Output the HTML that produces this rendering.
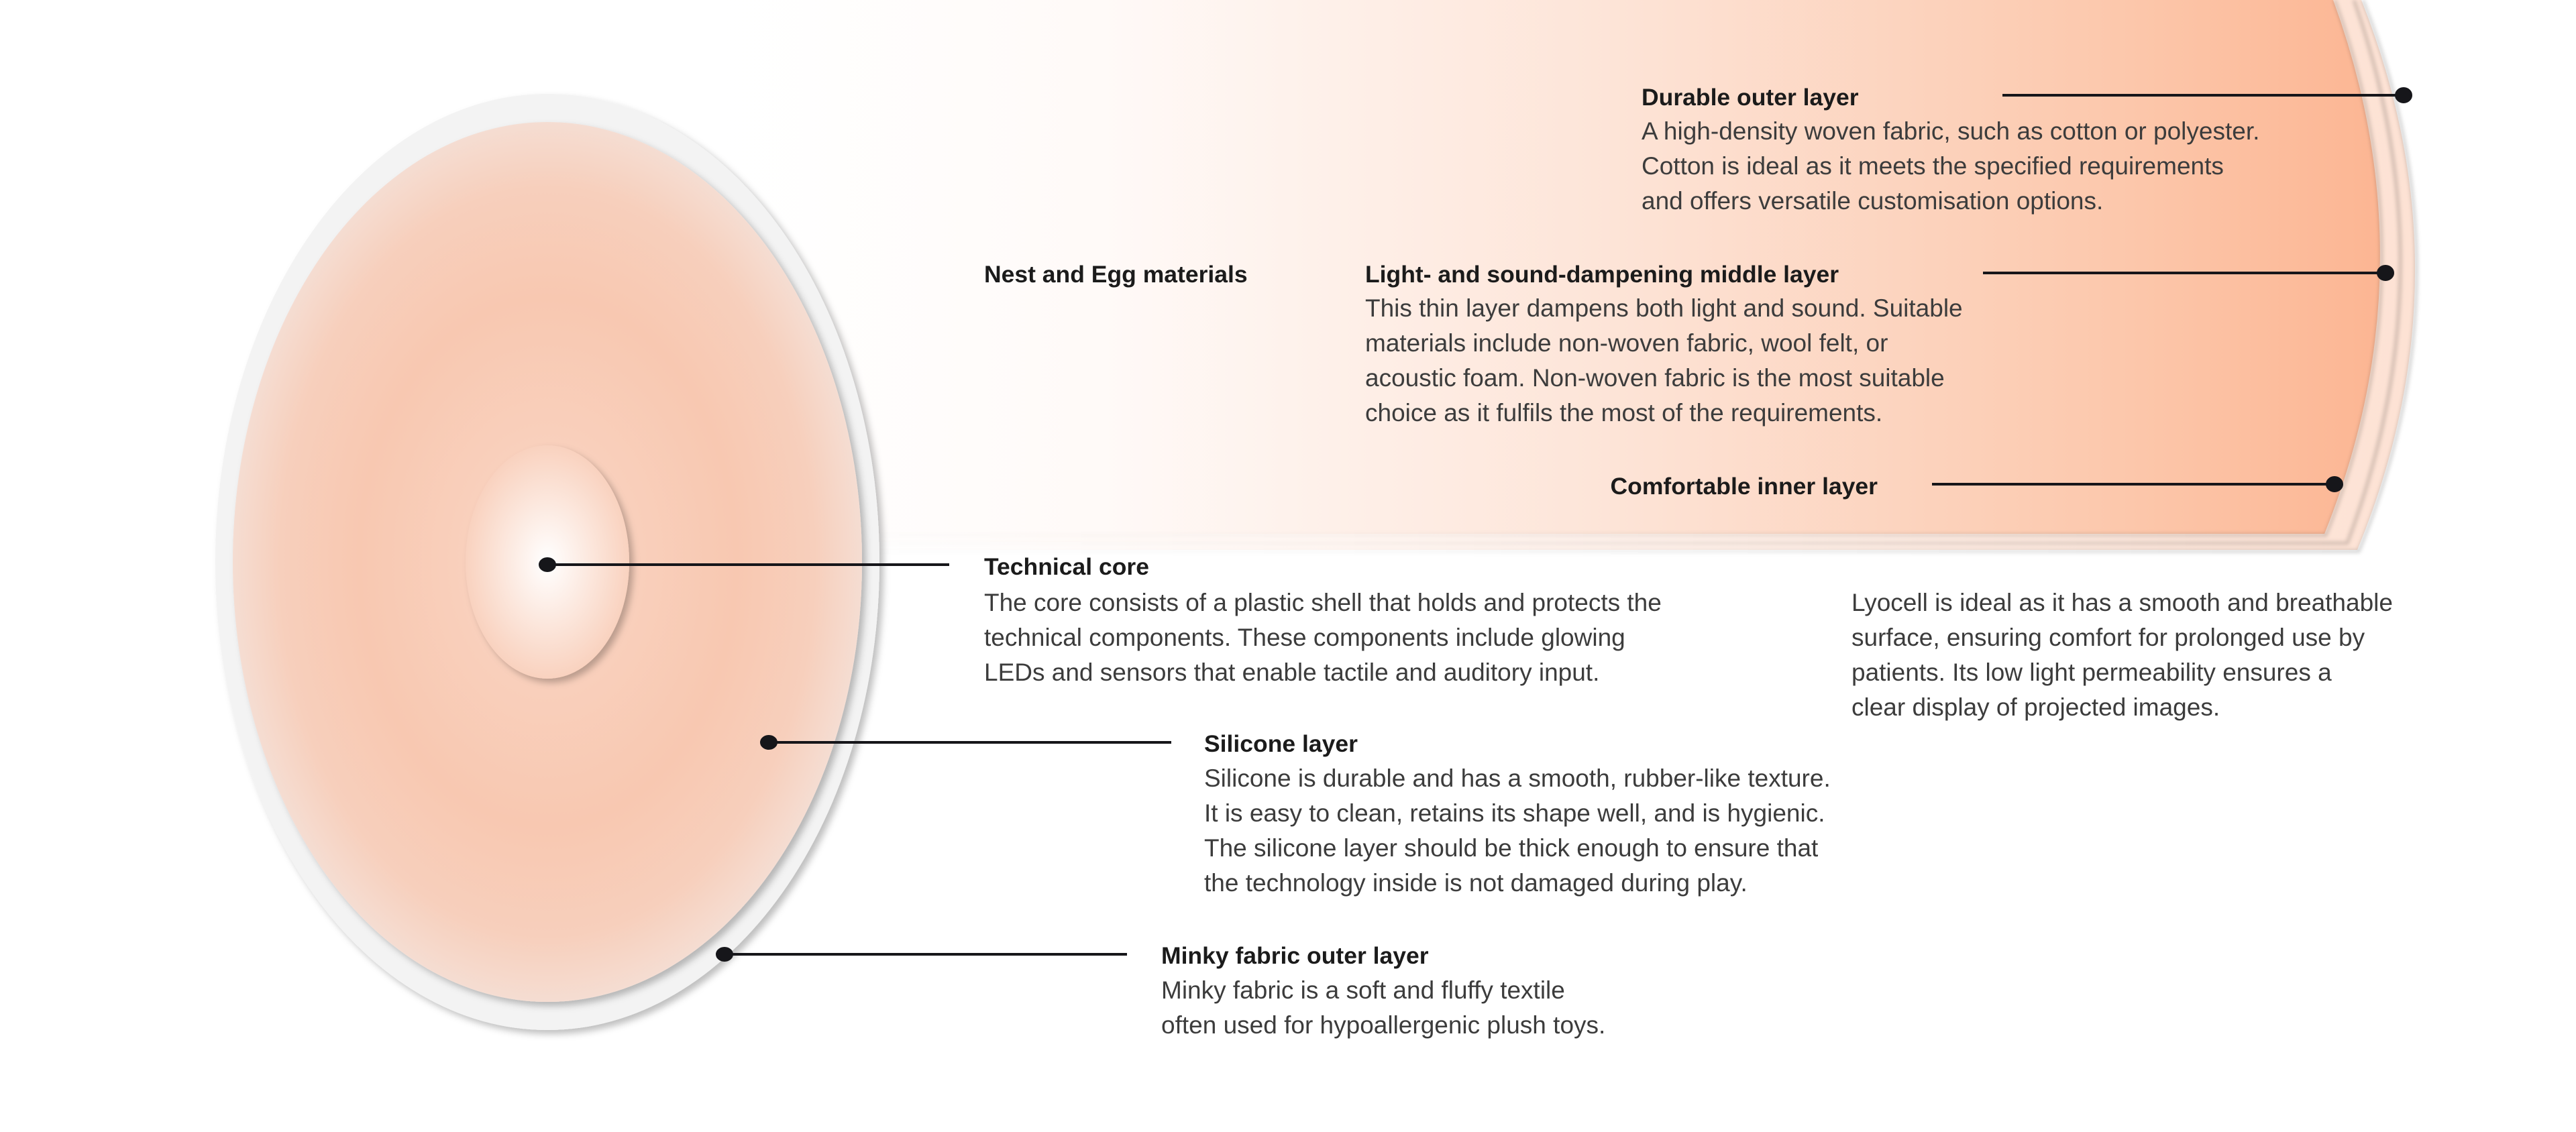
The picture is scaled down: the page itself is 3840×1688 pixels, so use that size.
<!DOCTYPE html>
<html><head><meta charset="utf-8">
<style>
html,body{margin:0;padding:0;background:#fff;}
#root{position:relative;width:3840px;height:1688px;overflow:hidden;background:#fff;font-family:"Liberation Sans",sans-serif;}
svg{position:absolute;left:0;top:0;}
.t{position:absolute;white-space:nowrap;line-height:52px;font-size:37px;color:#3c3c3c;}
.h{font-weight:bold;color:#1b1b1b;font-size:35.5px;}
</style></head>
<body>
<div id="root">
<svg width="3840" height="1688" viewBox="0 0 3840 1688">
<defs>
 <linearGradient id="band" x1="1000" y1="0" x2="3560" y2="0" gradientUnits="userSpaceOnUse">
  <stop offset="0" stop-color="#fff" stop-opacity="0"/>
  <stop offset="0.25" stop-color="#fffaf8"/>
  <stop offset="0.55" stop-color="#fde4d7"/>
  <stop offset="0.85" stop-color="#fcc7ab"/>
  <stop offset="1" stop-color="#fcb592"/>
 </linearGradient>
 <linearGradient id="band2" x1="1000" y1="0" x2="3600" y2="0" gradientUnits="userSpaceOnUse">
  <stop offset="0" stop-color="#fff" stop-opacity="0"/>
  <stop offset="0.35" stop-color="#fff7f3"/>
  <stop offset="1" stop-color="#fde2d4"/>
 </linearGradient>
 <linearGradient id="edge" x1="1000" y1="0" x2="3600" y2="0" gradientUnits="userSpaceOnUse">
  <stop offset="0" stop-color="#000" stop-opacity="0"/>
  <stop offset="0.4" stop-color="#000" stop-opacity="0.03"/>
  <stop offset="1" stop-color="#000" stop-opacity="0.18"/>
 </linearGradient>
 <radialGradient id="disc" cx="816" cy="838" r="469" gradientUnits="userSpaceOnUse" gradientTransform="translate(816 838) scale(1 1.4) translate(-816 -838)">
  <stop offset="0" stop-color="#fad6c5"/>
  <stop offset="0.6" stop-color="#f8c8b1"/>
  <stop offset="0.85" stop-color="#f7cfbc"/>
  <stop offset="1" stop-color="#f5ddd2"/>
 </radialGradient>
 <radialGradient id="core" cx="816" cy="838" r="122" gradientUnits="userSpaceOnUse" gradientTransform="translate(816 838) scale(1 1.42) translate(-816 -838)">
  <stop offset="0" stop-color="#ffffff"/>
  <stop offset="1" stop-color="#f9d2bf"/>
 </radialGradient>
 <filter id="sh" x="-10%" y="-10%" width="130%" height="130%"><feDropShadow dx="6" dy="6" stdDeviation="5" flood-color="#000" flood-opacity="0.25"/></filter>
 <filter id="blur"><feGaussianBlur stdDeviation="3"/></filter>
</defs>
<g>
 <path d="M1000 0 L3520 0 Q3683 410 3514 820 L1000 820 Z" fill="url(#band2)"/>
 <path d="M3522 0 Q3685 410 3516 822 L1000 822" fill="none" stroke="url(#edge)" stroke-width="5" filter="url(#blur)"/>
 <path d="M1000 0 L3507 0 Q3650 406 3497 808 L1000 808 Z" fill="url(#band2)"/>
 <path d="M3509 0 Q3652 406 3499 810 L1000 810" fill="none" stroke="url(#edge)" stroke-width="5" filter="url(#blur)"/>
 <path d="M1000 0 L3478 0 Q3624 400 3465 796 L1000 796 Z" fill="url(#band)"/>
 <path d="M3480 0 Q3626 400 3467 798 L1000 798" fill="none" stroke="url(#edge)" stroke-width="5" filter="url(#blur)"/>
</g>
<g>
 <ellipse cx="816" cy="838" rx="495" ry="698" fill="#f3f3f3" filter="url(#sh)"/>
 <ellipse cx="816" cy="838" rx="469" ry="656" fill="url(#disc)" filter="url(#sh)"/>
 <ellipse cx="816" cy="838" rx="122" ry="174" fill="url(#core)" filter="url(#sh)"/>
</g>
<g stroke="#16161a" stroke-width="4" fill="#16161a">
 <line x1="2985" y1="142" x2="3583" y2="142"/><ellipse cx="3583" cy="142" rx="11" ry="10"/>
 <line x1="2956" y1="407" x2="3556" y2="407"/><ellipse cx="3556" cy="407" rx="11" ry="10"/>
 <line x1="2880" y1="722" x2="3480" y2="722"/><ellipse cx="3480" cy="722" rx="11" ry="10"/>
 <line x1="816" y1="842" x2="1415" y2="842"/><ellipse cx="816" cy="842" rx="11" ry="9"/>
 <line x1="1146" y1="1107" x2="1746" y2="1107"/><ellipse cx="1146" cy="1107" rx="11" ry="9"/>
 <line x1="1080" y1="1423" x2="1680" y2="1423"/><ellipse cx="1080" cy="1423" rx="11" ry="9"/>
</g>
</svg>

<div class="t h" style="left:2447px;top:119px">Durable outer layer</div>
<div class="t" style="left:2447px;top:170px">A high-density woven fabric, such as cotton or polyester.<br>Cotton is ideal as it meets the specified requirements<br>and offers versatile customisation options.</div>

<div class="t h" style="left:1467px;top:383px">Nest and Egg materials</div>

<div class="t h" style="left:2035px;top:383px">Light- and sound-dampening middle layer</div>
<div class="t" style="left:2035px;top:434px">This thin layer dampens both light and sound. Suitable<br>materials include non-woven fabric, wool felt, or<br>acoustic foam. Non-woven fabric is the most suitable<br>choice as it fulfils the most of the requirements.</div>

<div class="t h" style="right:1041px;top:699px">Comfortable inner layer</div>
<div class="t" style="left:2760px;top:873px">Lyocell is ideal as it has a smooth and breathable<br>surface, ensuring comfort for prolonged use by<br>patients. Its low light permeability ensures a<br>clear display of projected images.</div>

<div class="t h" style="left:1467px;top:819px">Technical core</div>
<div class="t" style="left:1467px;top:873px">The core consists of a plastic shell that holds and protects the<br>technical components. These components include glowing<br>LEDs and sensors that enable tactile and auditory input.</div>

<div class="t h" style="left:1795px;top:1083px">Silicone layer</div>
<div class="t" style="left:1795px;top:1135px">Silicone is durable and has a smooth, rubber-like texture.<br>It is easy to clean, retains its shape well, and is hygienic.<br>The silicone layer should be thick enough to ensure that<br>the technology inside is not damaged during play.</div>

<div class="t h" style="left:1731px;top:1399px">Minky fabric outer layer</div>
<div class="t" style="left:1731px;top:1451px">Minky fabric is a soft and fluffy textile<br>often used for hypoallergenic plush toys.</div>
</div>
</body></html>
